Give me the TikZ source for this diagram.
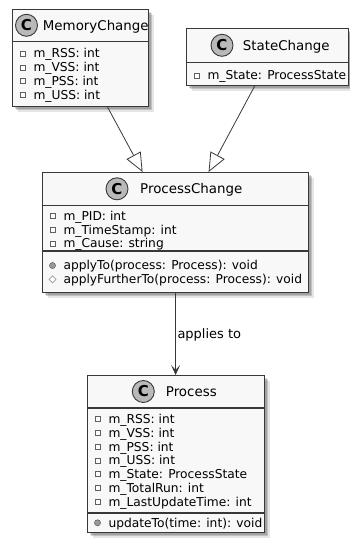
\documentclass[tikz,border=0pt]{standalone}
\usepackage{fontspec}
\setmainfont{DejaVu Sans}
\usetikzlibrary{arrows.meta,shadows}

\definecolor{linec}{HTML}{383838}
\definecolor{boxfill}{HTML}{F8F8F8}
\definecolor{iconfill}{HTML}{B9B9B9}
\definecolor{markc}{HTML}{606060}
\definecolor{dotfill}{HTML}{9A9A9A}

\tikzset{
  classbox/.style={rectangle, draw=linec, line width=1.2pt, fill=boxfill,
    inner sep=0pt, anchor=north west,
    drop shadow={shadow xshift=2pt, shadow yshift=-2pt, opacity=0.16, fill=black},
    drop shadow={shadow xshift=3.5pt, shadow yshift=-3.5pt, opacity=0.16, fill=black},
    drop shadow={shadow xshift=5pt, shadow yshift=-5pt, opacity=0.10, fill=black}},
  divider/.style={draw=linec, line width=1.1pt},
  classicon/.style={circle, draw=linec, line width=0.9pt, fill=iconfill,
    minimum size=22pt, inner sep=0pt, font=\fontsize{15}{15}\selectfont\bfseries},
  classname/.style={anchor=west, inner sep=0pt, text height=9.8pt, text depth=0pt,
    font=\fontsize{13.4}{15}\selectfont},
  membertext/.style={anchor=west, inner sep=0pt, text height=8.9pt, text depth=0pt,
    font=\fontsize{12.25}{14}\selectfont},
  fieldmark/.style={draw=markc, line width=0.6pt, fill=white},
  publicmark/.style={draw=markc, line width=0.6pt, fill=dotfill},
  protmark/.style={draw=dotfill, line width=0.7pt, fill=white},
  inherit/.style={draw=linec, line width=0.8pt,
    -{Triangle[open, length=19pt, width=16pt, fill=white, line width=0.8pt]}},
  assoc/.style={draw=linec, line width=0.8pt,
    -{Stealth[length=10pt, width=9pt, inset=5pt]}},
  assoclabel/.style={anchor=west, inner sep=1.5pt, text height=9.5pt, text depth=0pt,
    font=\fontsize{13}{15}\selectfont},
}

% private field: hollow square, then the text
\newcommand\umlfield[4]{%
  \draw[fieldmark] (#2+8,#3-2.5) rectangle (#2+13,#3+2.5);
  \node[membertext] (#1) at (#2+21.3,#3) {#4};}
% public method: filled dot, then the text
\newcommand\umlpublic[4]{%
  \draw[publicmark] (#2+10.5,#3) circle (3pt);
  \node[membertext] (#1) at (#2+21.3,#3) {#4};}
% protected method: hollow diamond, then the text
\newcommand\umlprotected[4]{%
  \draw[protmark] (#2+7,#3) -- (#2+10.5,#3-3.5) -- (#2+14,#3) -- (#2+10.5,#3+3.5) -- cycle;
  \node[membertext] (#1) at (#2+21.3,#3) {#4};}

\begin{document}
\begin{tikzpicture}[x=1pt, y=-1pt]
\useasboundingbox (0,0) rectangle (349,538);

% ---- MemoryChange ----
\node[classbox, minimum width=136pt, minimum height=97pt] (mem) at (12,9) {};
\draw[divider] (mem.west |- 0,41.5) -- (mem.east |- 0,41.5);
\node[classicon] (mem-icon) at (26.5,25.3) {C};
\node[classname] (mem-name) at (42.7,25.3) {MemoryChange};
\umlfield{mem-f1}{12}{53.5}{m\_RSS: int}
\umlfield{mem-f2}{12}{67.3}{m\_VSS: int}
\umlfield{mem-f3}{12}{81.1}{m\_PSS: int}
\umlfield{mem-f4}{12}{94.9}{m\_USS: int}

% ---- StateChange ----
\node[classbox, minimum width=162pt, minimum height=57pt] (state) at (186,28) {};
\draw[divider] (state.west |- 0,62.5) -- (state.east |- 0,62.5);
\node[classicon] (state-icon) at (222,45.3) {C};
\node[classname] (state-name) at (242.7,45.3) {StateChange};
\umlfield{state-f1}{186}{75.5}{m\_State: ProcessState}

% ---- ProcessChange ----
\node[classbox, minimum width=266pt, minimum height=120pt] (pc) at (42,172) {};
\draw[divider] (pc.west |- 0,205.5) -- (pc.east |- 0,205.5);
\draw[divider] (pc.west |- 0,251) -- (pc.east |- 0,251);
\node[classicon] (pc-icon) at (117,188.8) {C};
\node[classname] (pc-name) at (140,188.8) {ProcessChange};
\umlfield{pc-f1}{42}{215.8}{m\_PID: int}
\umlfield{pc-f2}{42}{229.6}{m\_TimeStamp: int}
\umlfield{pc-f3}{42}{243.4}{m\_Cause: string}
\umlpublic{pc-m1}{42}{265.5}{applyTo(process: Process): void}
\umlprotected{pc-m2}{42}{279.3}{applyFurtherTo(process: Process): void}

% ---- Process ----
\node[classbox, minimum width=177pt, minimum height=157pt] (proc) at (87,375) {};
\draw[divider] (proc.west |- 0,408) -- (proc.east |- 0,408);
\draw[divider] (proc.west |- 0,513) -- (proc.east |- 0,513);
\node[classicon] (proc-icon) at (143.3,391.5) {C};
\node[classname] (proc-name) at (165.7,391.5) {Process};
\umlfield{proc-f1}{87}{419}{m\_RSS: int}
\umlfield{proc-f2}{87}{432.8}{m\_VSS: int}
\umlfield{proc-f3}{87}{446.6}{m\_PSS: int}
\umlfield{proc-f4}{87}{460.4}{m\_USS: int}
\umlfield{proc-f5}{87}{474.2}{m\_State: ProcessState}
\umlfield{proc-f6}{87}{488}{m\_TotalRun: int}
\umlfield{proc-f7}{87}{501.8}{m\_LastUpdateTime: int}
\umlpublic{proc-m1}{87}{522.8}{updateTo(time: int): void}

% ---- relations ----
\draw[inherit] ([xshift=27pt]mem.south) -- ([xshift=-33pt]pc.north);
\draw[inherit] ([xshift=-13pt]state.south) -- ([xshift=33pt]pc.north);
\draw[assoc] (pc.south) -- node[assoclabel] (applies) {applies to} (pc.south |- proc.north);
\end{tikzpicture}
\end{document}
